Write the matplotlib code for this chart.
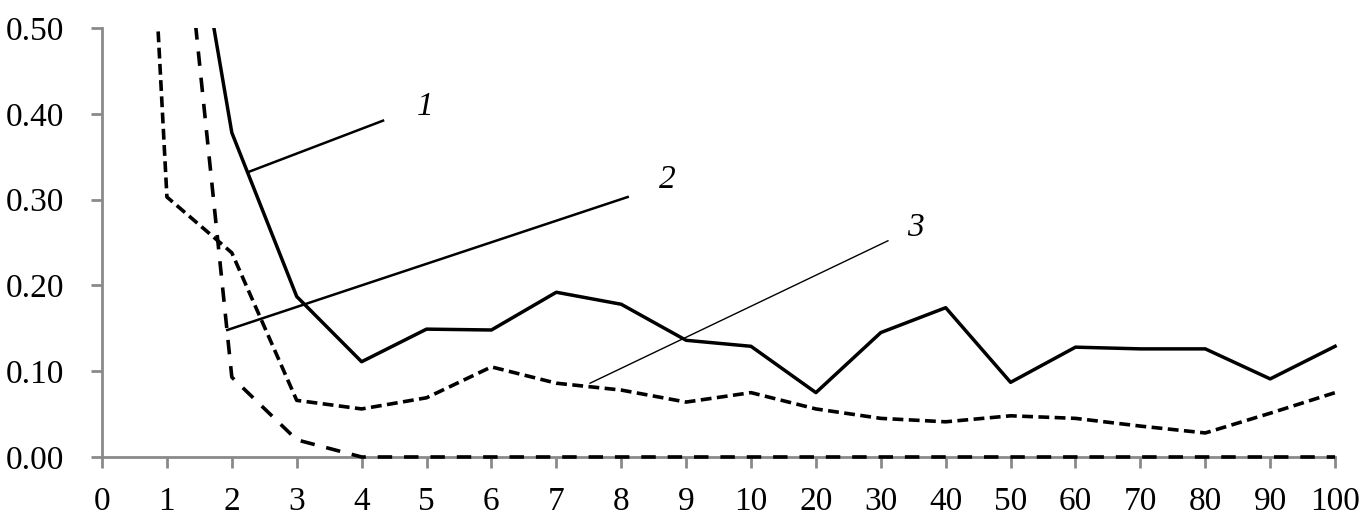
import matplotlib.pyplot as plt
from matplotlib.transforms import Bbox, TransformedBbox


# data
categories = ["0", "1", "2", "3", "4", "5", "6", "7", "8", "9", "10",
              "20", "30", "40", "50", "60", "70", "80", "90", "100"]

curve_1 = [2.00, 0.82, 0.378, 0.187, 0.111, 0.149, 0.148, 0.192, 0.178, 0.136,
           0.129, 0.075, 0.145, 0.174, 0.087, 0.128, 0.126, 0.126, 0.091, 0.129]

curve_2 = [1.90, 0.828, 0.093, 0.020, 0.0, 0.0, 0.0, 0.0, 0.0, 0.0,
           0.0, 0.0, 0.0, 0.0, 0.0, 0.0, 0.0, 0.0, 0.0, 0.0]

curve_3 = [1.73, 0.303, 0.238, 0.066, 0.056, 0.069, 0.105, 0.086, 0.078, 0.064,
           0.075, 0.056, 0.045, 0.041, 0.048, 0.045, 0.036, 0.028, 0.051, 0.075]

y_ticks = [0.0, 0.1, 0.2, 0.3, 0.4, 0.5]


plt.rcParams["font.family"] = ["Liberation Serif", "DejaVu Serif"]

fig = plt.figure(figsize=(13.64, 5.31), dpi=100)
ax = fig.add_axes([0.0748, 0.1394, 0.9040, 0.8079])

x = list(range(len(categories)))

# clip a little below zero so the line lying on the axis keeps its full width
clip = TransformedBbox(Bbox([[-0.5, -0.03], [len(categories) - 0.5, 0.5]]), ax.transData)


# ===============================
# Curves
# ===============================

l1, = ax.plot(x, curve_1, color="black", linewidth=2.5, zorder=3)

l2, = ax.plot(x, curve_2, color="black", linewidth=2.6, zorder=3,
              dashes=(4.0, 3.3))

l3, = ax.plot(x, curve_3, color="black", linewidth=2.6, zorder=3,
              dashes=(3.0, 1.5))

for line in (l1, l2, l3):
    line.set_clip_box(clip)


# ===============================
# Leader lines and labels
# ===============================

ax.plot([2.25, 4.33], [0.332, 0.392], color="black", linewidth=1.8, zorder=4)
ax.text(4.98, 0.408, "1", style="italic", fontsize=24, ha="center", va="center")

ax.plot([1.93, 8.10], [0.148, 0.303], color="black", linewidth=1.8, zorder=4)
ax.text(8.71, 0.323, "2", style="italic", fontsize=24, ha="center", va="center")

ax.plot([7.52, 12.11], [0.086, 0.252], color="black", linewidth=1.0, zorder=4)
ax.text(12.53, 0.267, "3", style="italic", fontsize=24, ha="center", va="center")


# ===============================
# Axes
# ===============================

ax.set_xlim(0, len(categories) - 1)
ax.set_ylim(0, 0.5)

ax.set_xticks(x)
ax.set_xticklabels(categories)
ax.set_yticks(y_ticks)
ax.set_yticklabels(["%.2f" % v for v in y_ticks])

for side in ("top", "right"):
    ax.spines[side].set_visible(False)

for side in ("left", "bottom"):
    ax.spines[side].set_color("#8a8a8a")
    ax.spines[side].set_linewidth(2.0)
    ax.spines[side].set_zorder(2)

ax.tick_params(axis="both", direction="out", color="#8a8a8a",
               width=2.0, length=8, labelsize=24)
ax.tick_params(axis="y", pad=19)
ax.tick_params(axis="x", pad=13)

fig.savefig("out.png", dpi=100)
